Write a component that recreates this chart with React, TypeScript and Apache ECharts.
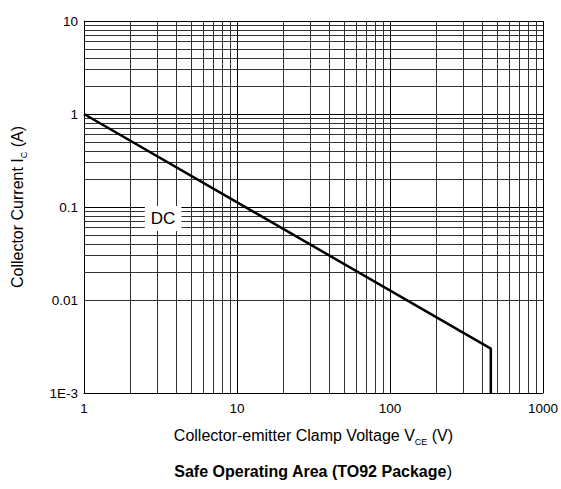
import React, { useEffect, useRef } from "react";
import * as echarts from "echarts";

// Data
const dcVoltage = [1, 456, 456];
const dcCurrent = [1, 0.003, 0.001];
const xTickValues = [1, 10, 100, 1000];
const xTickLabels = ["1", "10", "100", "1000"];
const yTickValues = [0.001, 0.01, 0.1, 1, 10];
const yTickLabels = ["1E-3", "0.01", "0.1", "1", "10"];
const minorMultipliers = [2, 3, 4, 5, 6, 7, 8, 9];
const xDecades = [1, 10, 100];
const yDecades = [0.001, 0.01, 0.1, 1];
const dcLabelPos = [3.29, 0.075];

function labelFor(v: number, values: number[], labels: string[]) {
  let best = 0;
  let bestD = Infinity;
  values.forEach((t, i) => {
    const d = Math.abs(Math.log10(v) - Math.log10(t));
    if (d < bestD) {
      bestD = d;
      best = i;
    }
  });
  return bestD < 0.01 ? labels[best] : "";
}

export default function App() {
  const ref = useRef<HTMLDivElement>(null);
  useEffect(() => {
    document.body.style.margin = "0";
    if (!ref.current) return;
    const chart = echarts.init(ref.current, undefined, { renderer: "svg" });
    const xMinor: number[] = [];
    xDecades.forEach((d) => minorMultipliers.forEach((m) => xMinor.push(d * m)));
    const yMinor: number[] = [];
    yDecades.forEach((d) => minorMultipliers.forEach((m) => yMinor.push(d * m)));
    const font = "Liberation Sans, Arial, sans-serif";
    const minorStyle = { color: "#333", width: 1, type: "solid" as const };
    chart.setOption({
      animation: false,
      backgroundColor: "#fff",
      textStyle: { fontFamily: font },
      title: {
        text: "{b|Safe Operating Area (TO92 Package}{n|)}",
        left: 308,
        textAlign: "center",
        top: 458,
        textStyle: {
          rich: {
            b: { fontFamily: font, fontSize: 16, fontWeight: "bold", color: "#000" },
            n: { fontFamily: font, fontSize: 16, fontWeight: "normal", color: "#000" },
          },
        },
      },
      grid: { left: 84, right: 16, top: 21, bottom: 96, containLabel: false },
      xAxis: {
        type: "log",
        logBase: 10,
        min: 1,
        max: 1000,
        name: "{n|Collector-emitter Clamp Voltage V}{s|CE}{n| (V)}",
        nameLocation: "middle",
        nameGap: 32,
        nameTextStyle: {
          rich: {
            n: { fontFamily: font, fontSize: 16, color: "#000" },
            s: { fontFamily: font, fontSize: 9, color: "#000", padding: [12, 0, 0, 0] },
          },
        },
        axisLine: { show: true, lineStyle: { color: "#000", width: 1 } },
        axisTick: { show: false },
        axisLabel: {
          color: "#000",
          fontSize: 13.5,
          fontFamily: font,
          margin: 8,
          formatter: (v: number) => labelFor(v, xTickValues, xTickLabels),
        },
        splitLine: { show: true, lineStyle: { color: "#000", width: 1 } },
      },
      yAxis: {
        type: "log",
        logBase: 10,
        min: 0.001,
        max: 10,
        name: "{n|Collector Current I}{s|C}{n| (A)}",
        nameLocation: "middle",
        nameGap: 56,
        nameRotate: 90,
        nameTextStyle: {
          rich: {
            n: { fontFamily: font, fontSize: 16, color: "#000" },
            s: { fontFamily: font, fontSize: 9, color: "#000", padding: [12, 0, 0, 0] },
          },
        },
        axisLine: { show: true, lineStyle: { color: "#000", width: 1 } },
        axisTick: { show: false },
        axisLabel: {
          color: "#000",
          fontSize: 13.5,
          fontFamily: font,
          margin: 6,
          formatter: (v: number) => labelFor(v, yTickValues, yTickLabels),
        },
        splitLine: { show: true, lineStyle: { color: "#000", width: 1 } },
      },
      series: [
        {
          type: "line",
          z: 1,
          data: [],
          silent: true,
          markLine: {
            silent: true,
            symbol: "none",
            label: { show: false },
            lineStyle: minorStyle,
            data: [
              ...xMinor.map((v) => ({ xAxis: v })),
              ...yMinor.map((v) => ({ yAxis: v })),
            ],
          },
        },
        {
          type: "line",
          z: 5,
          symbol: "none",
          lineStyle: { color: "#000", width: 2.5 },
          data: dcVoltage.map((v, i) => [v, dcCurrent[i]]),
        },
        {
          type: "scatter",
          z: 10,
          symbolSize: 0,
          itemStyle: { opacity: 1, color: "#000" },
          data: [dcLabelPos],
          label: {
            show: true,
            position: "inside",
            formatter: "DC",
            fontFamily: font,
            fontSize: 17,
            color: "#000",
            opacity: 1,
            backgroundColor: "#fff",
            padding: [4, 6, 4, 6],
          },
        },
      ],
    });
    return () => chart.dispose();
  }, []);
  return <div ref={ref} style={{ width: 561, height: 489 }} />;
}
